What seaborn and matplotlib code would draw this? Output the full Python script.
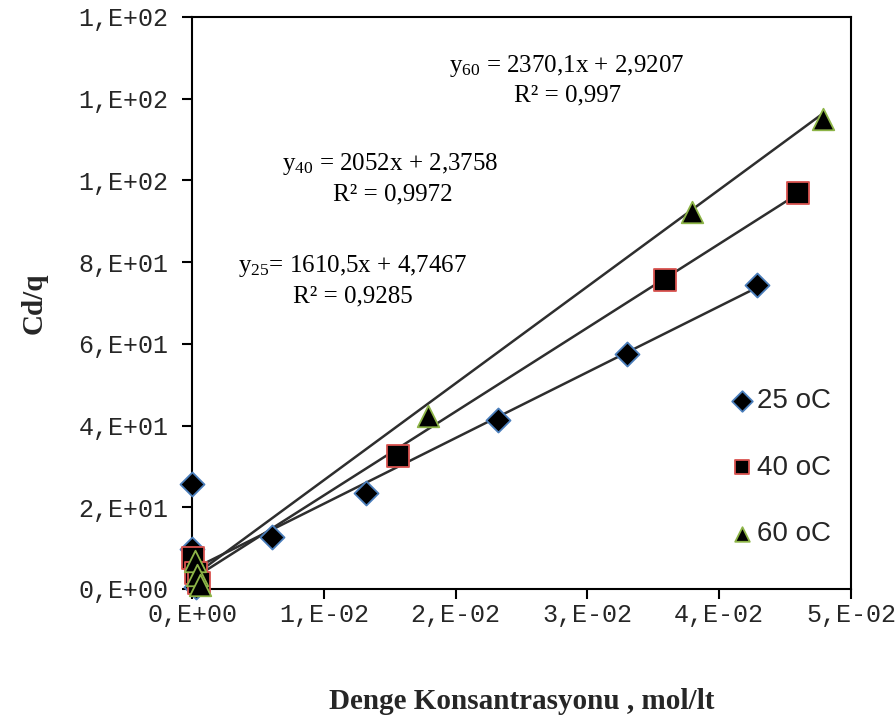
import numpy as np
import pandas as pd
import matplotlib
matplotlib.use("Agg")
import matplotlib.pyplot as plt
import seaborn as sns

# Equilibrium concentration (mol/lt) and Cd/q for each temperature
x_25 = [0.0000, 0.0000, 0.0003, 0.0061, 0.0132, 0.0232, 0.0330, 0.0429]
y_25 = [25.6, 9.8, 0.5, 12.8, 23.4, 41.3, 57.5, 74.5]
x_40 = [0.0001, 0.0003, 0.0005, 0.0156, 0.0359, 0.0460]
y_40 = [7.6, 4.0, 1.4, 32.5, 75.7, 96.9]
x_60 = [0.0002, 0.0004, 0.0006, 0.0179, 0.0379, 0.0479]
y_60 = [6.8, 3.4, 1.0, 42.3, 92.2, 115.0]

series_names = ["25 oC", "40 oC", "60 oC"]

# Linear trendline coefficients (slope, intercept) and R²
slopes = [1610.5, 2052.0, 2370.1]
intercepts = [4.7467, 2.3758, 2.9207]
eq_labels = [r"y$_{25}$= 1610,5x + 4,7467", r"y$_{40}$ = 2052x + 2,3758",
             r"y$_{60}$ = 2370,1x + 2,9207"]
r2_labels = ["R² = 0,9285", "R² = 0,9972", "R² = 0,997"]

x_ticks = [0.0, 0.01, 0.02, 0.03, 0.04, 0.05]
x_ticklabels = ["0,E+00", "1,E-02", "2,E-02", "3,E-02", "4,E-02", "5,E-02"]
y_ticks = [0, 20, 40, 60, 80, 100, 120, 140]
y_ticklabels = ["0,E+00", "2,E+01", "4,E+01", "6,E+01", "8,E+01",
                "1,E+02", "1,E+02", "1,E+02"]

df = pd.DataFrame({
    "x": x_25 + x_40 + x_60,
    "y": y_25 + y_40 + y_60,
    "T": [series_names[0]] * len(x_25) + [series_names[1]] * len(x_40)
         + [series_names[2]] * len(x_60),
})

sns.set_theme(style="white")
plt.rcParams["font.family"] = ["Liberation Serif", "DejaVu Serif"]
plt.rcParams["mathtext.fontset"] = "custom"
plt.rcParams["mathtext.rm"] = "Liberation Serif"
plt.rcParams["mathtext.it"] = "Liberation Serif"

fig = plt.figure(figsize=(8.96, 7.25), dpi=100)
ax = fig.add_axes([0.2143, 0.1876, 0.9498 - 0.2143, 0.9766 - 0.1876])

xs_all = [x_25, x_40, x_60]
line_color = "#2e2e2e"
for xs, m, b in zip(xs_all, slopes, intercepts):
    xl = np.array([min(xs), max(xs)])
    ax.plot(xl, m * xl + b, color=line_color, lw=1.8, zorder=2)

markers = {"25 oC": "D", "40 oC": "s", "60 oC": "^"}
edges = {"25 oC": "#4a7ebb", "40 oC": "#d9534f", "60 oC": "#8db447"}
sizes = {"25 oC": 150, "40 oC": 270, "60 oC": 240}
for name in series_names:
    sub = df[df["T"] == name]
    sns.scatterplot(data=sub, x="x", y="y", marker=markers[name], s=sizes[name],
                    color="black", edgecolor=edges[name], linewidth=1.3,
                    ax=ax, zorder=3, label=name, clip_on=False)

ax.set_xlim(0, 0.05)
ax.set_ylim(0, 140)
ax.set_xticks(x_ticks)
ax.set_xticklabels(x_ticklabels, family=["Liberation Mono"], fontsize=18)
ax.set_yticks(y_ticks)
ax.set_yticklabels(y_ticklabels, family=["Liberation Mono"], fontsize=18)
ax.tick_params(axis="both", direction="out", length=7, width=1.5,
               color="black", bottom=True, left=True)
ax.tick_params(axis="x", pad=3)
ax.tick_params(axis="y", pad=10)
for sp in ax.spines.values():
    sp.set_color("black")
    sp.set_linewidth(1.5)

ax.set_xlabel("Denge Konsantrasyonu , mol/lt", fontsize=21, fontweight="bold",
              labelpad=44)
ax.set_ylabel("Cd/q", fontsize=21, fontweight="bold", labelpad=22)

# Trendline equations
eq_pos = [(0.0122, 79.0), (0.0150, 104.0), (0.0284, 128.0)]
r2_pos = [(0.0122, 71.5), (0.0152, 96.5), (0.0285, 120.8)]
for (ex, ey), (rx, ry), et, rt in zip(eq_pos, r2_pos, eq_labels, r2_labels):
    ax.text(ex, ey, et, ha="center", va="center", fontsize=18, color="black")
    ax.text(rx, ry, rt, ha="center", va="center", fontsize=18, color="black")

leg = ax.legend(loc="center left", bbox_to_anchor=(0.775, 0.212), frameon=False,
                labelspacing=1.45, handletextpad=0.05, handlelength=1.0,
                prop={"family": ["Liberation Sans Narrow", "Liberation Sans"],
                      "size": 20})
for h in leg.legend_handles:
    h.set_sizes([110])

fig.savefig("out.png", dpi=100)
